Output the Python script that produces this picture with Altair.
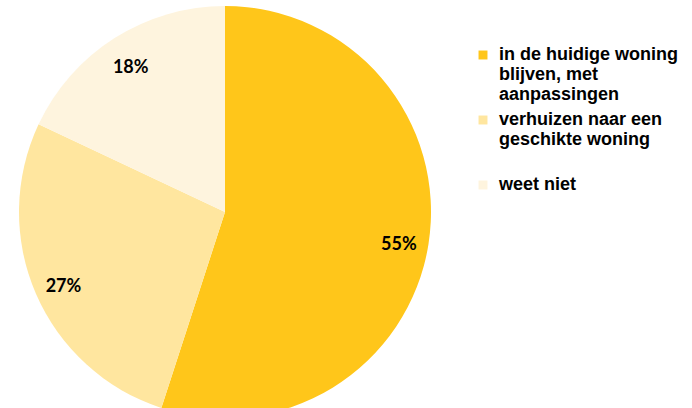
import altair as alt
import pandas as pd

categories = [
    "in de huidige woning|blijven, met|aanpassingen",
    "verhuizen naar een|geschikte woning|",
    "weet niet",
]
values = [55, 27, 18]
labels = ["55%", "27%", "18%"]
colors = ["#FFC61A", "#FFE69F", "#FEF4DE"]

df = pd.DataFrame({
    "cat": categories,
    "value": values,
    "label": labels,
    "idx": list(range(len(categories))),
})

base = alt.Chart(df).encode(
    theta=alt.Theta("value:Q", stack=True),
    order=alt.Order("idx:Q"),
    x=alt.value(225),
    y=alt.value(212),
)

pie = base.mark_arc(outerRadius=206, strokeWidth=0).encode(
    color=alt.Color(
        "cat:N",
        scale=alt.Scale(domain=categories, range=colors),
        legend=alt.Legend(
            title=None,
            orient="none",
            legendX=474,
            legendY=46,
            symbolType="square",
            symbolSize=80,
            symbolStrokeWidth=0,
            labelFont="Liberation Sans",
            labelFontSize=18,
            labelFontWeight="bold",
            labelColor="#000000",
            labelLimit=400,
            labelOffset=7,
            rowPadding=7,
            labelExpr="split(datum.label, '|')",
        ),
    )
)

text = base.mark_text(
    radius=176, dy=5, font="Lato", fontWeight="bold", fontSize=18,
    color="#000000"
).encode(text="label:N")

chart = (
    alt.layer(pie, text)
    .properties(width=692, height=408, padding=0,
                autosize=alt.AutoSizeParams(type="none"))
    .configure(style={"guide-label": {"lineHeight": 20}})
    .configure_view(stroke=None)
)

chart.save("out.html", embed_options={"renderer": "svg", "actions": False})
